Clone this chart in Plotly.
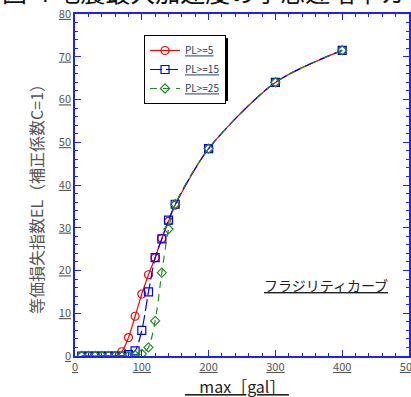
import plotly.graph_objects as go

# data
gal = [10, 20, 30, 40, 50, 60, 70, 80, 90, 100, 110, 120, 130, 140, 150, 200, 300, 400]
pl5 = [0, 0, 0, 0, 0, 0, 1.0, 4.3, 9.3, 14.5, 19.0, 23.0, 27.5, 31.5, 35.3, 48.5, 64.0, 71.5]
pl15 = [0, 0, 0, 0, 0, 0, 0, 0.3, 1.2, 6.0, 15.0, 23.0, 27.4, 31.8, 35.5, 48.5, 64.0, 71.5]
pl25 = [0, 0, 0, 0, 0, 0, 0, 0, 0.2, 0.5, 2.0, 8.2, 19.5, 29.7, 35.5, 48.5, 64.0, 71.5]

x_ticks = [0, 100, 200, 300, 400, 500]
y_ticks = [0, 10, 20, 30, 40, 50, 60, 70, 80]

FONT = "Noto Sans CJK JP"
AXIS_BLUE = "#2020ff"

L, R, T, B = 75, 2, 14, 41
PW, PH = 411 - L - R, 397 - T - B

fig = go.Figure()
fig.add_trace(go.Scatter(
    x=gal, y=pl5, mode="lines+markers", name="<u>PL>=5</u>",
    line=dict(color="#ff0000", width=1.2, shape="spline", smoothing=0.8),
    marker=dict(symbol="circle-open", size=8, color="#ff0000", line=dict(width=1.2)),
))
fig.add_trace(go.Scatter(
    x=gal, y=pl15, mode="lines+markers", name="<u>PL>=15</u>",
    line=dict(color="#0000ff", width=1.2, shape="spline", smoothing=0.8, dash="12px,4px"),
    marker=dict(symbol="square-open", size=8, color="#0000ff", line=dict(width=1.2)),
))
fig.add_trace(go.Scatter(
    x=gal, y=pl25, mode="lines+markers", name="<u>PL>=25</u>",
    line=dict(color="#228b22", width=1.2, shape="spline", smoothing=0.8, dash="7px,6px"),
    marker=dict(symbol="diamond-open", size=7, color="#228b22", line=dict(width=1.2)),
))

axis_common = dict(
    showline=True, linecolor=AXIS_BLUE, linewidth=1.5, mirror="ticks",
    ticks="inside", tickcolor=AXIS_BLUE, ticklen=6, tickwidth=1.2,
    showgrid=False, zeroline=False, automargin=False,
    tickfont=dict(family=FONT, size=11, color="#555555"),
    ticklabeloverflow="allow",
)

fig.update_xaxes(
    range=[0, 500], tickmode="array", tickvals=x_ticks,
    ticktext=["<u>%d</u>" % v for v in x_ticks],
    minor=dict(dtick=20, ticks="inside", ticklen=3, tickcolor=AXIS_BLUE, tickwidth=1),
    **axis_common,
)
fig.update_yaxes(
    range=[0, 80], tickmode="array", tickvals=y_ticks,
    ticktext=["<u>%d</u>" % v for v in y_ticks],
    minor=dict(dtick=2, ticks="inside", ticklen=3, tickcolor=AXIS_BLUE, tickwidth=1),
    **axis_common,
)

# axis titles
fig.add_annotation(
    text="<u>    max［gal］ </u>", xref="paper", yref="paper",
    x=(237 - L) / PW, y=-(386 - 356) / PH, xanchor="center", yanchor="middle",
    showarrow=False, font=dict(family=FONT, size=16, color="#222222"),
)
fig.add_annotation(
    text="等価損失指数EL（補正係数C=1）", xref="paper", yref="paper",
    x=-(L - 36) / PW, y=(356 - 195) / PH, xanchor="center", yanchor="middle",
    textangle=-90, showarrow=False, font=dict(family=FONT, size=16, color="#555555"),
)

fig.add_annotation(
    text="<u>フラジリティカーブ</u>", x=376, y=16.6, xref="x", yref="y",
    showarrow=False, font=dict(family=FONT, size=14, color="#222222"),
)
fig.add_annotation(
    text="図-4 地震最大加速度の予想逓増率カーブ", xref="paper", yref="paper",
    x=-L / PW, y=1.0 + 3 / PH, xanchor="left", yanchor="bottom", showarrow=False,
    font=dict(family=FONT, size=25, color="#111111"),
)

# legend shadow (legend box approx. 144..225 x 35..98 px)
lx0, ly0, lx1, ly1 = 144, 35, 225, 98
fig.add_shape(
    type="rect", xref="paper", yref="paper", layer="above",
    x0=(lx0 + 3 - L) / PW, x1=(lx1 + 3 - L) / PW,
    y0=(356 - ly1 - 3) / PH, y1=(356 - ly0 - 3) / PH,
    fillcolor="black", line=dict(width=0),
)

fig.update_layout(
    width=411, height=397,
    margin=dict(l=L, r=R, t=T, b=B),
    paper_bgcolor="white", plot_bgcolor="white",
    showlegend=True,
    legend=dict(
        x=(lx0 - L) / PW, y=(356 - ly0) / PH, xanchor="left", yanchor="top",
        bgcolor="white", bordercolor="black", borderwidth=1,
        font=dict(family=FONT, size=10),
        tracegroupgap=0, itemwidth=30,
    ),
)

fig.write_html(
    "out.html",
    config={"displayModeBar": False},
    post_script="document.body.style.margin='0';document.body.style.overflow='hidden';",
)
